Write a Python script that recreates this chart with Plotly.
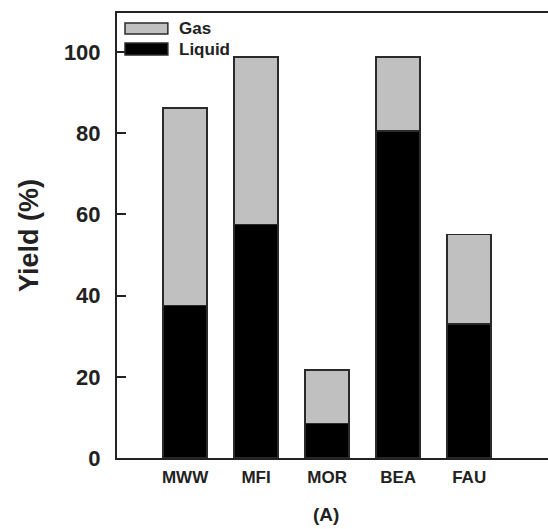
import plotly.graph_objects as go

# Product yields over each zeolite framework (stacked: liquid below, gas on top)
frameworks = ["MWW", "MFI", "MOR", "BEA", "FAU"]
liquid_yield = [37.5, 57.5, 8.5, 80.5, 33.0]
gas_yield = [48.7, 41.3, 13.2, 18.3, 22.0]
y_ticks = [0, 20, 40, 60, 80, 100]

FONT = "Liberation Sans, Arial, sans-serif"
EDGE = "#2a2a2a"
GAS_FILL = "#c0c0c0"

fig = go.Figure()
fig.add_trace(go.Bar(
    x=list(range(len(frameworks))), y=liquid_yield, name="Liquid",
    marker=dict(color="black", line=dict(color=EDGE, width=1.5)),
    width=0.62,
))
fig.add_trace(go.Bar(
    x=list(range(len(frameworks))), y=gas_yield, name="Gas",
    marker=dict(color=GAS_FILL, line=dict(color=EDGE, width=1.5)),
    width=0.62,
))

# Legend drawn as boxed swatches with bold labels in the upper-left corner
legend_items = [("Gas", GAS_FILL, 0.9775, 0.953), ("Liquid", "black", 0.9326, 0.9056)]
for label, fill, y1, y0 in legend_items:
    fig.add_shape(type="rect", xref="x domain", yref="y domain",
                  x0=0.0186, x1=0.118, y0=y0, y1=y1,
                  fillcolor=fill, line=dict(color=EDGE, width=1.5))
    fig.add_annotation(xref="x domain", yref="y domain", x=0.14, y=(y0 + y1) / 2,
                       text=f"<b>{label}</b>", showarrow=False, xanchor="left",
                       yanchor="middle", font=dict(family=FONT, size=17, color="#222"))

fig.add_annotation(xref="paper", yref="paper", x=(326 - 117) / 431, y=-0.128,
                   text="<b>(A)</b>", showarrow=False, xanchor="center", yanchor="middle",
                   font=dict(family=FONT, size=19, color="#222"))

fig.update_layout(
    width=548, height=529,
    margin=dict(l=117, r=0, t=13, b=71),
    barmode="stack",
    plot_bgcolor="white", paper_bgcolor="white",
    showlegend=False,
    font=dict(family=FONT, color="#222"),
    xaxis=dict(
        range=[-0.958, 5.11],
        tickmode="array", tickvals=list(range(len(frameworks))),
        ticktext=[f"<b>{f}</b>" for f in frameworks],
        tickfont=dict(size=17, family=FONT, color="#222"),
        ticklabelstandoff=3,
        showline=True, linecolor="#222", linewidth=2, mirror=True,
        ticks="", showgrid=False, zeroline=False,
    ),
    yaxis=dict(
        range=[0, 109.6],
        tickmode="array", tickvals=y_ticks,
        ticktext=[f"<b>{v}</b>" for v in y_ticks],
        tickfont=dict(size=22, family=FONT, color="#222"),
        ticks="inside", ticklen=9, tickwidth=2, tickcolor="#222",
        ticklabelstandoff=10,
        showline=True, linecolor="#222", linewidth=2, mirror=False,
        showgrid=False, zeroline=False,
        title=dict(text="<b>Yield (%)</b>", font=dict(size=27, family=FONT, color="#222"),
                   standoff=17),
    ),
)

fig.write_html("out.html")
